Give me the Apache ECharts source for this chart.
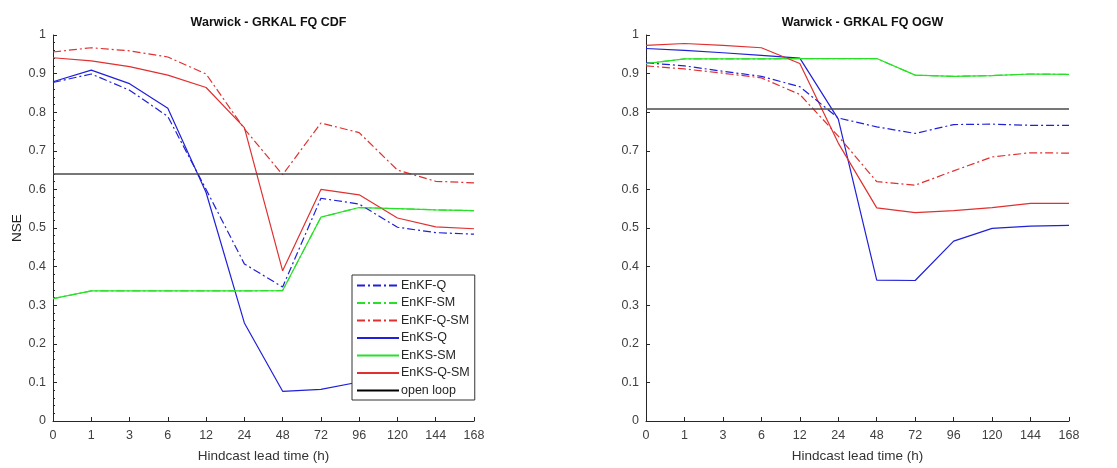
<!DOCTYPE html>
<html>
<head>
<meta charset="utf-8">
<script src="https://cdn.jsdelivr.net/npm/echarts/dist/echarts.min.js"></script>
<style>
html,body{margin:0;padding:0;background:#fff;}
#chart{width:1117px;height:468px;}
</style>
</head>
<body>
<div id="chart"></div>
<script>
// ---- data ----
const categories = ['0','1','3','6','12','24','48','72','96','120','144','168'];
const yTicks = [0,0.1,0.2,0.3,0.4,0.5,0.6,0.7,0.8,0.9,1];
const seriesNames = ['EnKF-Q','EnKF-SM','EnKF-Q-SM','EnKS-Q','EnKS-SM','EnKS-Q-SM','open loop'];

// Left panel: Warwick - GRKAL FQ CDF
const cdfEnKFQ   = [0.877, 0.899, 0.857, 0.789, 0.600, 0.407, 0.347, 0.577, 0.562, 0.502, 0.488, 0.484];
const cdfEnKFSM  = [0.317, 0.337, 0.337, 0.337, 0.337, 0.337, 0.338, 0.528, 0.553, 0.550, 0.547, 0.545];
const cdfEnKFQSM = [0.956, 0.967, 0.959, 0.943, 0.899, 0.757, 0.638, 0.772, 0.747, 0.650, 0.621, 0.617];
const cdfEnKSQ   = [0.879, 0.909, 0.874, 0.810, 0.592, 0.254, 0.077, 0.082, 0.101, 0.090, 0.083, 0.079];
const cdfEnKSSM  = [0.317, 0.337, 0.337, 0.337, 0.337, 0.337, 0.338, 0.528, 0.553, 0.550, 0.547, 0.545];
const cdfEnKSQSM = [0.941, 0.933, 0.918, 0.896, 0.864, 0.760, 0.389, 0.600, 0.586, 0.526, 0.503, 0.498];
const cdfOpenLoop = 0.637;

// Right panel: Warwick - GRKAL FQ OGW
const ogwEnKFQ   = [0.928, 0.920, 0.906, 0.893, 0.866, 0.785, 0.762, 0.745, 0.768, 0.769, 0.766, 0.766];
const ogwEnKFSM  = [0.926, 0.938, 0.938, 0.938, 0.939, 0.939, 0.939, 0.896, 0.893, 0.895, 0.899, 0.898];
const ogwEnKFQSM = [0.920, 0.912, 0.901, 0.889, 0.846, 0.738, 0.620, 0.611, 0.648, 0.684, 0.695, 0.694];
const ogwEnKSQ   = [0.965, 0.960, 0.954, 0.947, 0.940, 0.782, 0.365, 0.364, 0.466, 0.499, 0.505, 0.507];
const ogwEnKSSM  = [0.926, 0.938, 0.938, 0.938, 0.939, 0.939, 0.939, 0.896, 0.893, 0.895, 0.899, 0.898];
const ogwEnKSQSM = [0.973, 0.978, 0.973, 0.967, 0.926, 0.720, 0.552, 0.540, 0.545, 0.553, 0.564, 0.564];
const ogwOpenLoop = 0.809;

// ---- styles ----
const FONT = 'Liberation Sans';
const BLUE = '#2020d8', GREEN = '#28e028', RED = '#e03030', BLACK = '#4a4a4a';
const DASHDOT = [8, 3, 2, 3];

const panels = [
  {title: 'Warwick - GRKAL FQ CDF', data: [cdfEnKFQ, cdfEnKFSM, cdfEnKFQSM, cdfEnKSQ, cdfEnKSSM, cdfEnKSQSM], open: cdfOpenLoop, minor: true, yName: 'NSE'},
  {title: 'Warwick - GRKAL FQ OGW', data: [ogwEnKFQ, ogwEnKFSM, ogwEnKFQSM, ogwEnKSQ, ogwEnKSSM, ogwEnKSQSM], open: ogwOpenLoop, minor: false, yName: ''}
];
const colors = [BLUE, GREEN, RED, BLUE, GREEN, RED];
const types  = [DASHDOT, DASHDOT, DASHDOT, 'solid', 'solid', 'solid'];

const grids = [
  {left: 53, right: 643, top: 35, bottom: 44},
  {left: 646, right: 48, top: 35, bottom: 44}
];

const xAxes = [], yAxes = [], series = [], titles = [];
panels.forEach((p, i) => {
  titles.push({
    text: p.title,
    left: grids[i].left + (1117 - grids[i].left - grids[i].right) / 2,
    textAlign: 'center',
    top: 11,
    textStyle: {fontFamily: FONT, fontSize: 12.5, fontWeight: 'bold', color: '#111'}
  });
  xAxes.push({
    type: 'category', gridIndex: i, data: categories, boundaryGap: false,
    axisLine: {lineStyle: {color: '#262626', width: 1}},
    axisTick: {inside: true, length: 4, lineStyle: {color: '#262626'}},
    axisLabel: {color: '#404040', fontFamily: FONT, fontSize: 12.5, margin: 8},
    splitLine: {show: false},
    name: 'Hindcast lead time (h)', nameLocation: 'middle', nameGap: 28,
    nameTextStyle: {fontFamily: FONT, fontSize: 13.5, color: '#333'}
  });
  yAxes.push({
    type: 'value', gridIndex: i, min: yTicks[0], max: yTicks[yTicks.length - 1], interval: 0.1,
    axisLine: {show: true, lineStyle: {color: '#262626', width: 1}},
    axisTick: {show: true, inside: true, length: 4, lineStyle: {color: '#262626'}},
    minorTick: {show: p.minor, splitNumber: 5, length: 2, lineStyle: {color: '#262626'}},
    axisLabel: {color: '#404040', fontFamily: FONT, fontSize: 12.5, margin: 7},
    splitLine: {show: false},
    name: p.yName, nameLocation: 'middle', nameGap: 29,
    nameTextStyle: {fontFamily: FONT, fontSize: 13.5, color: '#222'}
  });
  p.data.forEach((d, k) => {
    series.push({
      type: 'line', name: seriesNames[k], xAxisIndex: i, yAxisIndex: i,
      data: d, symbol: 'none', showSymbol: false, animation: false,
      z: k < 3 ? 3 : 2,
      lineStyle: {color: colors[k], width: 1.2, type: types[k]},
      itemStyle: {color: colors[k]}
    });
  });
  series.push({
    type: 'line', name: seriesNames[6], xAxisIndex: i, yAxisIndex: i,
    data: [], symbol: 'none', animation: false,
    lineStyle: {color: '#000', width: 1.2},
    itemStyle: {color: '#000'},
    markLine: {
      silent: true, symbol: 'none', animation: false,
      label: {show: false},
      lineStyle: {color: BLACK, width: 1.5, type: 'solid'},
      data: [{yAxis: p.open}]
    }
  });
});

const chart = echarts.init(document.getElementById('chart'), null, {renderer: 'canvas'});
chart.setOption({
  backgroundColor: '#fff',
  animation: false,
  title: titles,
  grid: grids,
  xAxis: xAxes,
  yAxis: yAxes,
  legend: {
    data: seriesNames,
    orient: 'vertical',
    left: 352, top: 275,
    padding: [4, 5, 3, 4],
    itemWidth: 42, itemHeight: 12, itemGap: 4.5,
    itemStyle: {color: 'rgba(0,0,0,0)', borderWidth: 0, opacity: 0},
    backgroundColor: '#fff',
    borderColor: '#333', borderWidth: 1, borderRadius: 0,
    textStyle: {fontFamily: FONT, fontSize: 12.5, color: '#262626', padding: [0, 0, 0, -3]},
    selectedMode: false
  },
  series: series
});
</script>
</body>
</html>
